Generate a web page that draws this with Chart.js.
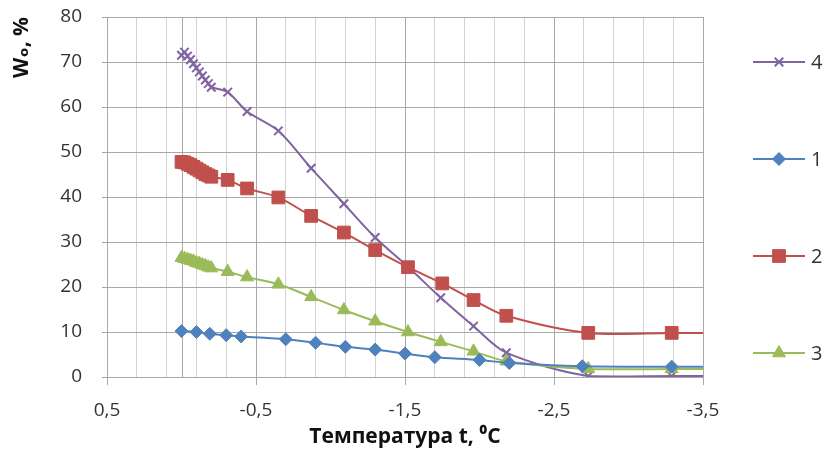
<!DOCTYPE html>
<html><head><meta charset="utf-8">
<script src="https://cdn.jsdelivr.net/npm/chart.js@4/dist/chart.umd.min.js"></script>
<style>html,body{margin:0;padding:0;background:#fff}#wrap{width:825px;height:452px}</style>
</head><body><div id="wrap"><canvas id="c" width="825" height="452"></canvas></div>
<script>
// ---- data ----
const seriesLabels = ["1", "2", "3", "4"];
const legendOrder = [3, 0, 1, 2]; // legend shows 4,1,2,3

const temp1 = [0, -0.1, -0.19, -0.3, -0.4, -0.7, -0.9, -1.1, -1.3, -1.5, -1.7, -2.0, -2.2, -2.69, -3.29, -3.9];
const moist1 = [10.2, 10.0, 9.6, 9.3, 9.0, 8.4, 7.6, 6.7, 6.1, 5.2, 4.4, 3.8, 3.1, 2.4, 2.3, 2.3];

const temp2 = [0, -0.02, -0.04, -0.06, -0.08, -0.1, -0.12, -0.14, -0.16, -0.18, -0.2, -0.31, -0.44, -0.65, -0.87, -1.09, -1.3, -1.52, -1.75, -1.96, -2.18, -2.73, -3.29, -3.9];
const moist2 = [47.8, 47.7, 47.4, 47.1, 46.7, 46.3, 45.9, 45.5, 45.1, 44.8, 44.5, 43.8, 41.9, 39.9, 35.8, 32.1, 28.2, 24.4, 20.8, 17.1, 13.6, 9.8, 9.8, 9.8];

const temp3 = [0, -0.02, -0.04, -0.06, -0.08, -0.1, -0.12, -0.14, -0.16, -0.18, -0.2, -0.31, -0.44, -0.65, -0.87, -1.09, -1.3, -1.52, -1.74, -1.96, -2.18, -2.73, -3.29, -3.9];
const moist3 = [26.5, 26.3, 26.1, 25.9, 25.7, 25.4, 25.2, 24.9, 24.7, 24.4, 24.2, 23.4, 22.2, 20.6, 17.8, 14.9, 12.4, 10.0, 7.8, 5.7, 3.5, 1.8, 1.8, 1.8];

const temp4 = [0, -0.02, -0.04, -0.06, -0.08, -0.1, -0.12, -0.14, -0.16, -0.18, -0.2, -0.31, -0.44, -0.65, -0.87, -1.09, -1.3, -1.52, -1.74, -1.96, -2.18, -2.73, -3.29, -3.9];
const moist4 = [71.5, 72.2, 71.3, 70.5, 69.6, 68.7, 67.8, 66.9, 66.0, 65.2, 64.4, 63.3, 59.0, 54.7, 46.4, 38.5, 31.0, 24.5, 17.6, 11.3, 5.4, 0.2, 0.2, 0.2];

const xTitle = "Температура t, \u2070C";
const yTitle = "W\u2092, %";

// ---- styling ----
const FONT = "'Open Sans', 'DejaVu Sans', sans-serif";
const TXT = '#333333';
const GRID_MAJOR = '#a8a8a8';
const GRID_MINOR = '#d2d2d2';

function pts(xs, ys) { return xs.map((x, i) => ({x: x, y: ys[i]})); }
function isMajor(v) { const t = Math.round(v * 10); return ((t - 5) % 10 + 10) % 10 === 0; }

const datasets = [
  {label: seriesLabels[0], data: pts(temp1, moist1), borderColor: '#4F81BD', backgroundColor: '#4F81BD', pointStyle: 'rectRot', pointRadius: 6.5, pointBorderWidth: 1},
  {label: seriesLabels[1], data: pts(temp2, moist2), borderColor: '#C0504D', backgroundColor: '#C0504D', pointStyle: 'rect', pointRadius: 9, pointBorderWidth: 1},
  {label: seriesLabels[2], data: pts(temp3, moist3), borderColor: '#9BBB59', backgroundColor: '#9BBB59', pointStyle: 'triangle', pointRadius: 7.5, pointBorderWidth: 1},
  {label: seriesLabels[3], data: pts(temp4, moist4), borderColor: '#8064A2', backgroundColor: '#8064A2', pointStyle: 'crossRot', pointRadius: 6, pointBorderWidth: 2}
].map(d => Object.assign({showLine: true, borderWidth: 2, tension: 0.3, pointHoverRadius: d.pointRadius}, d));

const zeroAxisPlugin = {
  id: 'zeroAxis',
  beforeDatasetsDraw(chart) {
    const ctx = chart.ctx, a = chart.chartArea;
    const x = Math.round(chart.scales.x.getPixelForValue(0)) + 0.5;
    ctx.save();
    ctx.strokeStyle = GRID_MAJOR; ctx.lineWidth = 1;
    ctx.beginPath(); ctx.moveTo(x, a.top); ctx.lineTo(x, a.bottom); ctx.stroke();
    ctx.restore();
  }
};

const sideLegendPlugin = {
  id: 'sideLegend',
  afterDraw(chart) {
    const ctx = chart.ctx, a = chart.chartArea;
    ctx.save();
    legendOrder.forEach((di, i) => {
      const ds = chart.data.datasets[di];
      const y = a.top + 45 + i * 97;
      const x0 = a.right + 50, x1 = a.right + 102;
      ctx.strokeStyle = ds.borderColor; ctx.lineWidth = 2;
      ctx.beginPath(); ctx.moveTo(x0, y); ctx.lineTo(x1, y); ctx.stroke();
      ctx.fillStyle = ds.backgroundColor; ctx.strokeStyle = ds.borderColor;
      ctx.lineWidth = ds.pointBorderWidth;
      Chart.helpers.drawPoint(ctx, {pointStyle: ds.pointStyle, radius: ds.pointRadius, borderWidth: ds.pointBorderWidth, rotation: 0}, (x0 + x1) / 2, y);
      ctx.fillStyle = TXT; ctx.font = "20px " + FONT;
      ctx.textAlign = 'left'; ctx.textBaseline = 'middle';
      ctx.fillText(ds.label, x1 + 6, y + 1);
    });
    ctx.restore();
  }
};

new Chart(document.getElementById('c'), {
  type: 'scatter',
  data: {datasets: datasets},
  plugins: [zeroAxisPlugin, sideLegendPlugin],
  options: {
    responsive: false,
    animation: false,
    layout: {padding: {left: 0, right: 122, top: 17, bottom: 0}},
    plugins: {legend: {display: false}, tooltip: {enabled: false}},
    scales: {
      x: {
        type: 'linear', reverse: true, min: -3.5, max: 0.5,
        afterFit(s) { s.height = 75; s.paddingLeft = 0; s.paddingRight = 0; },
        ticks: {
          stepSize: 0.2, autoSkip: false, maxRotation: 0, padding: 14,
          color: TXT, font: {family: FONT, size: 19},
          callback: (v) => isMajor(v) ? (Math.round(v * 10) / 10).toFixed(1).replace('.', ',') : ''
        },
        grid: {
          color: (c) => (c.tick && isMajor(c.tick.value)) ? GRID_MAJOR : GRID_MINOR,
          tickColor: (c) => (c.tick && isMajor(c.tick.value)) ? GRID_MAJOR : 'rgba(0,0,0,0)',
          tickLength: 8, lineWidth: 1
        },
        border: {display: true, color: GRID_MAJOR},
        title: {display: true, text: xTitle, color: '#111', font: {family: FONT, size: 21, weight: 'bold'}, padding: {top: 0, bottom: 2}}
      },
      y: {
        min: 0, max: 80,
        afterFit(s) { s.width = 107; s.paddingTop = 0; s.paddingBottom = 0; },
        ticks: {stepSize: 10, padding: 20, color: TXT, font: {family: FONT, size: 19}},
        grid: {color: GRID_MAJOR, tickColor: GRID_MAJOR, tickLength: 5, lineWidth: 1},
        border: {display: true, color: GRID_MAJOR},
        title: {display: true, align: 'end', text: yTitle, color: '#111', font: {family: FONT, size: 21, weight: 'bold'}, padding: {top: 9, bottom: 0}}
      }
    }
  }
});
</script></body></html>
